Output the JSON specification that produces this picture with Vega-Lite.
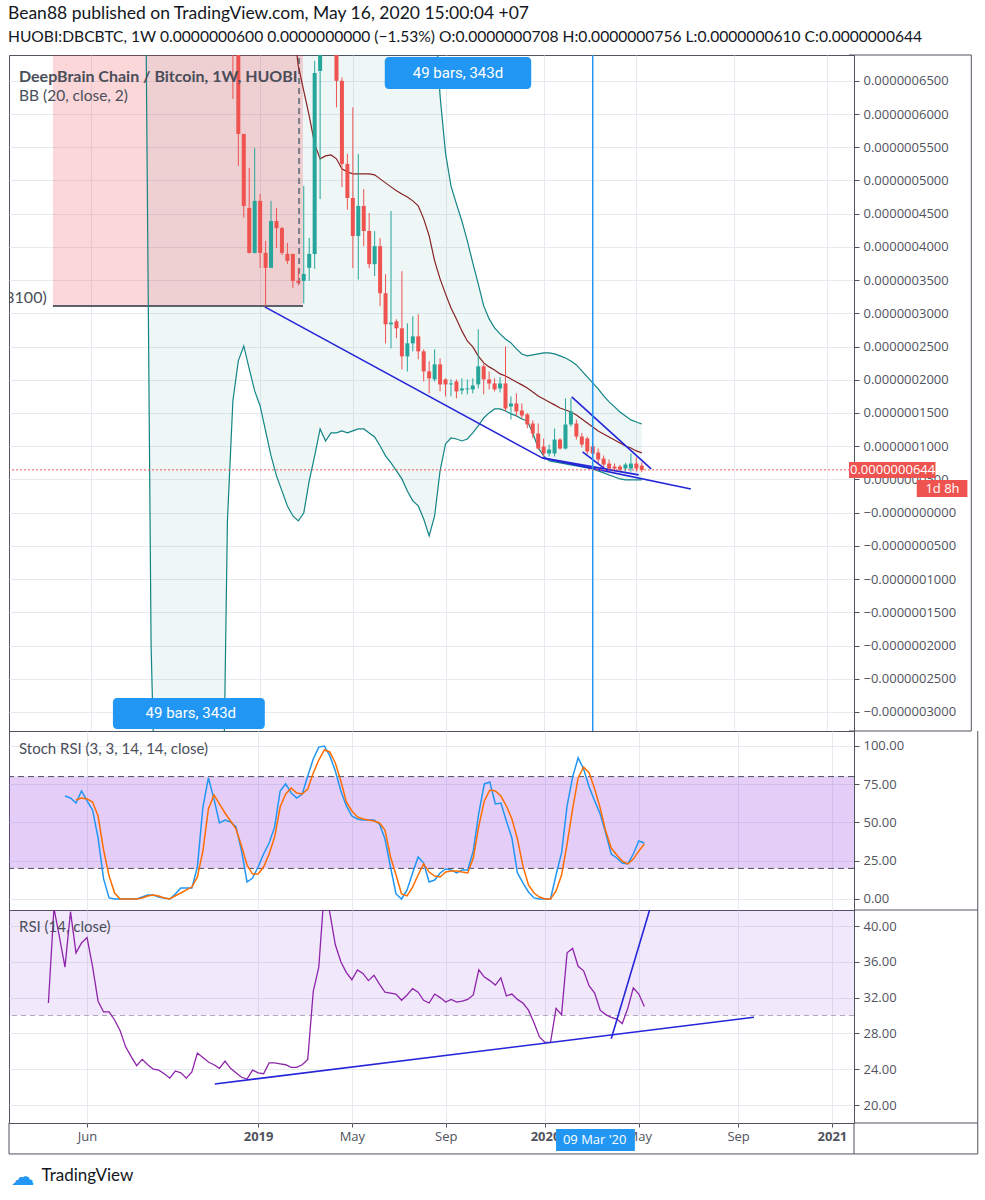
{
  "$schema": "https://vega.github.io/schema/vega-lite/v6.json",
  "background": "white",
  "padding": {"left": 8, "top": 4, "right": 0, "bottom": 0},
  "spacing": 0,
  "bounds": "flush",
  "title": {
    "text": "Bean88 published on TradingView.com, May 16, 2020 15:00:04 +07",
    "subtitle": "HUOBI:DBCBTC, 1W 0.0000000600 0.0000000000 (−1.53%) O:0.0000000708 H:0.0000000756 L:0.0000000610 C:0.0000000644",
    "anchor": "start", "font": "Lato", "fontSize": 17.5, "fontWeight": "normal", "color": "#131722",
    "subtitleFont": "Lato", "subtitleFontSize": 15.6, "subtitleColor": "#131722", "subtitlePadding": 8, "offset": 8
  },
  "datasets": {
    "weeks": [
      {"date":"2018-04-16","rsi":31.4},
      {"date":"2018-04-23","rsi":42.0},
      {"date":"2018-04-30","rsi":38.8},
      {"date":"2018-05-07","stochK":67.3,"rsi":35.4},
      {"date":"2018-05-14","stochK":66.0,"rsi":41.6},
      {"date":"2018-05-21","stochK":62.7,"stochD":64.7,"rsi":37.0},
      {"date":"2018-05-28","stochK":70.6,"stochD":66.0,"rsi":38.1},
      {"date":"2018-06-04","stochK":64.1,"stochD":65.4,"rsi":38.7},
      {"date":"2018-06-11","stochK":58.2,"stochD":63.4,"rsi":35.5},
      {"date":"2018-06-18","stochK":39.9,"stochD":54.2,"rsi":31.6},
      {"date":"2018-06-25","stochK":13.1,"stochD":32.0,"rsi":30.4},
      {"date":"2018-07-02","stochK":0.7,"stochD":15.0,"rsi":30.4},
      {"date":"2018-07-09","stochK":0,"stochD":3.9,"rsi":29.5},
      {"date":"2018-07-16","stochK":0,"stochD":0,"rsi":28.3},
      {"date":"2018-07-23","stochK":0,"stochD":0,"rsi":26.5},
      {"date":"2018-07-30","stochK":0,"stochD":0,"rsi":25.4},
      {"date":"2018-08-06","stochK":0,"stochD":0,"rsi":24.4},
      {"date":"2018-08-13","stochK":1.3,"stochD":0.7,"rsi":25.1,"bbUpper":40000,"bbBasis":30000,"bbLower":8000},
      {"date":"2018-08-20","stochK":2.6,"stochD":2.0,"rsi":24.5,"bbUpper":39000,"bbBasis":29200,"bbLower":-2000},
      {"date":"2018-08-27","stochK":2.6,"stochD":2.6,"rsi":24.0,"bbUpper":38000,"bbBasis":28400,"bbLower":-5319},
      {"date":"2018-09-03","stochK":1.3,"stochD":2.0,"rsi":23.9,"bbUpper":37000,"bbBasis":27600,"bbLower":-8000},
      {"date":"2018-09-10","stochK":0.7,"stochD":0.7,"rsi":23.5,"bbUpper":36000,"bbBasis":26800,"bbLower":-9500},
      {"date":"2018-09-17","stochK":0,"stochD":0,"rsi":23.0,"bbUpper":35000,"bbBasis":26000,"bbLower":-10500},
      {"date":"2018-09-24","stochK":3.3,"stochD":2.0,"rsi":23.8,"bbUpper":34000,"bbBasis":25100,"bbLower":-11000},
      {"date":"2018-10-01","stochK":7.2,"stochD":3.9,"rsi":23.6,"bbUpper":33000,"bbBasis":24200,"bbLower":-11200},
      {"date":"2018-10-08","stochK":7.2,"stochD":5.9,"rsi":23.0,"bbUpper":32000,"bbBasis":23300,"bbLower":-11000},
      {"date":"2018-10-15","stochK":7.2,"stochD":7.8,"rsi":23.7,"bbUpper":31000,"bbBasis":22400,"bbLower":-10500},
      {"date":"2018-10-22","stochK":20.9,"stochD":14.4,"rsi":25.8,"bbUpper":30000,"bbBasis":21500,"bbLower":-9800},
      {"date":"2018-10-29","stochK":60.1,"stochD":31.4,"rsi":25.3,"bbUpper":29000,"bbBasis":20600,"bbLower":-9000},
      {"date":"2018-11-05","stochK":79.1,"stochD":58.8,"rsi":24.8,"bbUpper":28000,"bbBasis":19700,"bbLower":-8200},
      {"date":"2018-11-12","stochK":65.4,"stochD":68.0,"rsi":24.5,"bbUpper":27000,"bbBasis":18800,"bbLower":-7300},
      {"date":"2018-11-19","stochK":49.7,"stochD":62.1,"rsi":24.1,"bbUpper":26000,"bbBasis":17900,"bbLower":-5800},
      {"date":"2018-11-26","stochK":51.6,"stochD":56.2,"rsi":24.9,"bbUpper":25000,"bbBasis":17000,"bbLower":-125},
      {"date":"2018-12-03","open":9000,"high":9500,"low":6228,"close":7200,"stochK":50.3,"stochD":51.0,"rsi":24.1,"bbUpper":24200,"bbBasis":16100,"bbLower":1681},
      {"date":"2018-12-10","open":7300,"high":7500,"low":5220,"close":5701,"stochK":47.1,"stochD":45.8,"rsi":23.6,"bbUpper":23400,"bbBasis":15200,"bbLower":2284},
      {"date":"2018-12-17","open":5701,"high":5701,"low":4440,"close":4617,"stochK":31.4,"stochD":34.6,"rsi":23.1,"bbUpper":22600,"bbBasis":14400,"bbLower":2509},
      {"date":"2018-12-24","open":4587,"high":5190,"low":3900,"close":3910,"stochK":11.1,"stochD":22.2,"rsi":22.9,"bbUpper":21800,"bbBasis":13700,"bbLower":2163},
      {"date":"2018-12-31","open":3910,"high":5490,"low":3900,"close":4693,"stochK":13.7,"stochD":16.3,"rsi":23.9,"bbUpper":21000,"bbBasis":13000,"bbLower":1832},
      {"date":"2019-01-07","open":4693,"high":4800,"low":3685,"close":3910,"stochK":20.9,"stochD":16.3,"rsi":23.6,"bbUpper":20300,"bbBasis":12400,"bbLower":1606},
      {"date":"2019-01-14","open":3910,"high":4090,"low":3097,"close":3685,"stochK":29.4,"stochD":20.9,"rsi":23.5,"bbUpper":19600,"bbBasis":11800,"bbLower":1230},
      {"date":"2019-01-21","open":3685,"high":4693,"low":3685,"close":4389,"stochK":36.6,"stochD":29.4,"rsi":24.7,"bbUpper":19000,"bbBasis":11300,"bbLower":854},
      {"date":"2019-01-28","open":4389,"high":4587,"low":3985,"close":4283,"stochK":47.1,"stochD":40.5,"rsi":24.7,"bbUpper":18400,"bbBasis":10800,"bbLower":553},
      {"date":"2019-02-04","open":4283,"high":4300,"low":3880,"close":3910,"stochK":70.6,"stochD":60.1,"rsi":24.6,"bbUpper":17800,"bbBasis":10300,"bbLower":327},
      {"date":"2019-02-11","open":3895,"high":4060,"low":3745,"close":3790,"stochK":75.2,"stochD":68.6,"rsi":24.5,"bbUpper":17300,"bbBasis":9300,"bbLower":101},
      {"date":"2019-02-18","open":3895,"high":3895,"low":3383,"close":3488,"stochK":69.3,"stochD":72.5,"rsi":24.2,"bbUpper":16800,"bbBasis":7402,"bbLower":-50},
      {"date":"2019-02-25","open":3490,"high":3685,"low":3420,"close":3460,"stochK":66.0,"stochD":69.3,"rsi":24.2,"bbUpper":16300,"bbBasis":6725,"bbLower":-125},
      {"date":"2019-03-04","open":3488,"high":4920,"low":3150,"close":3593,"stochK":68.6,"stochD":68.6,"rsi":24.5,"bbUpper":15900,"bbBasis":6348,"bbLower":-5},
      {"date":"2019-03-11","open":3685,"high":4135,"low":3488,"close":3895,"stochK":80.4,"stochD":71.9,"rsi":25.1,"bbUpper":15500,"bbBasis":5972,"bbLower":477},
      {"date":"2019-03-18","open":3895,"high":6800,"low":3670,"close":6619,"stochK":91.5,"stochD":82.4,"rsi":32.7,"bbUpper":15100,"bbBasis":5551,"bbLower":854},
      {"date":"2019-03-25","open":6650,"high":7400,"low":4720,"close":7100,"stochK":99.3,"stochD":90.8,"rsi":35.4,"bbUpper":14700,"bbBasis":5326,"bbLower":1260},
      {"date":"2019-04-01","open":7100,"high":8200,"low":6950,"close":7800,"stochK":100,"stochD":97.4,"rsi":44.0,"bbUpper":14300,"bbBasis":5370,"bbLower":1079},
      {"date":"2019-04-08","open":7800,"high":8100,"low":6900,"close":7300,"stochK":93.5,"stochD":96.1,"rsi":41.5,"bbUpper":14000,"bbBasis":5385,"bbLower":1200},
      {"date":"2019-04-15","open":7300,"high":7400,"low":6100,"close":6500,"stochK":83.7,"stochD":88.9,"rsi":37.9,"bbUpper":13700,"bbBasis":5326,"bbLower":1200},
      {"date":"2019-04-22","open":6500,"high":6550,"low":4900,"close":5250,"stochK":70.6,"stochD":77.1,"rsi":36.0,"bbUpper":13400,"bbBasis":5175,"bbLower":1230},
      {"date":"2019-04-29","open":5250,"high":5400,"low":4560,"close":4737,"stochK":60.8,"stochD":63.4,"rsi":34.8,"bbUpper":13100,"bbBasis":5130,"bbLower":1200},
      {"date":"2019-05-06","open":4737,"high":6100,"low":3680,"close":4164,"stochK":54.2,"stochD":57.5,"rsi":34.0,"bbUpper":12800,"bbBasis":5100,"bbLower":1230},
      {"date":"2019-05-13","open":4164,"high":5400,"low":3510,"close":4617,"stochK":52.3,"stochD":53.6,"rsi":35.1,"bbUpper":12500,"bbBasis":5100,"bbLower":1260},
      {"date":"2019-05-20","open":4617,"high":4870,"low":4010,"close":4240,"stochK":51.6,"stochD":52.3,"rsi":34.7,"bbUpper":12200,"bbBasis":5100,"bbLower":1260},
      {"date":"2019-05-27","open":4240,"high":4510,"low":3680,"close":3740,"stochK":51.6,"stochD":51.6,"rsi":33.9,"bbUpper":11900,"bbBasis":5100,"bbLower":1200},
      {"date":"2019-06-03","open":3740,"high":4237,"low":3560,"close":4011,"stochK":51.6,"stochD":51.0,"rsi":34.5,"bbUpper":11600,"bbBasis":5085,"bbLower":1140},
      {"date":"2019-06-10","open":4011,"high":4132,"low":3106,"close":3303,"stochK":49.0,"stochD":49.7,"rsi":33.5,"bbUpper":11300,"bbBasis":5024,"bbLower":1004},
      {"date":"2019-06-17","open":3303,"high":3589,"low":2549,"close":2835,"stochK":39.2,"stochD":45.1,"rsi":32.6,"bbUpper":11000,"bbBasis":4964,"bbLower":854},
      {"date":"2019-06-24","open":2835,"high":4540,"low":2473,"close":2860,"stochK":20.9,"stochD":27.5,"rsi":32.5,"bbUpper":10700,"bbBasis":4904,"bbLower":749},
      {"date":"2019-07-01","open":2880,"high":2910,"low":2624,"close":2775,"stochK":3.3,"stochD":15.7,"rsi":32.4,"bbUpper":10400,"bbBasis":4844,"bbLower":628},
      {"date":"2019-07-08","open":2775,"high":3634,"low":2156,"close":2352,"stochK":0,"stochD":3.3,"rsi":31.7,"bbUpper":10100,"bbBasis":4798,"bbLower":508},
      {"date":"2019-07-15","open":2352,"high":2850,"low":2126,"close":2549,"stochK":5.9,"stochD":2.0,"rsi":32.3,"bbUpper":9800,"bbBasis":4753,"bbLower":327},
      {"date":"2019-07-22","open":2549,"high":2956,"low":2428,"close":2654,"stochK":17.0,"stochD":7.8,"rsi":33.0,"bbUpper":9500,"bbBasis":4693,"bbLower":177},
      {"date":"2019-07-29","open":2654,"high":2986,"low":2307,"close":2428,"stochK":27.5,"stochD":15.7,"rsi":32.6,"bbUpper":9200,"bbBasis":4618,"bbLower":101},
      {"date":"2019-08-05","open":2428,"high":2458,"low":1975,"close":2126,"stochK":23.5,"stochD":22.9,"rsi":31.7,"bbUpper":8900,"bbBasis":4422,"bbLower":-95},
      {"date":"2019-08-12","open":2126,"high":2277,"low":1795,"close":2021,"stochK":11.1,"stochD":17.6,"rsi":31.4,"bbUpper":8500,"bbBasis":4166,"bbLower":-351},
      {"date":"2019-08-19","open":2006,"high":2458,"low":1975,"close":2232,"stochK":12.4,"stochD":15.0,"rsi":32.4,"bbUpper":7703,"bbBasis":3790,"bbLower":-50},
      {"date":"2019-08-26","open":2232,"high":2322,"low":1825,"close":1930,"stochK":17.0,"stochD":14.4,"rsi":32.0,"bbUpper":6273,"bbBasis":3519,"bbLower":628},
      {"date":"2019-09-02","open":2006,"high":2021,"low":1750,"close":1930,"stochK":19.6,"stochD":17.6,"rsi":31.5,"bbUpper":5414,"bbBasis":3293,"bbLower":1034},
      {"date":"2019-09-09","open":1930,"high":2006,"low":1750,"close":1945,"stochK":19.0,"stochD":18.3,"rsi":31.8,"bbUpper":4918,"bbBasis":3082,"bbLower":1124},
      {"date":"2019-09-16","open":1975,"high":2006,"low":1720,"close":1825,"stochK":17.0,"stochD":18.3,"rsi":31.5,"bbUpper":4647,"bbBasis":2916,"bbLower":1109},
      {"date":"2019-09-23","open":1840,"high":2021,"low":1780,"close":1870,"stochK":19.0,"stochD":17.6,"rsi":31.6,"bbUpper":4391,"bbBasis":2736,"bbLower":1079},
      {"date":"2019-09-30","open":1855,"high":2006,"low":1780,"close":1870,"stochK":19.0,"stochD":17.0,"rsi":31.8,"bbUpper":4090,"bbBasis":2585,"bbLower":1109},
      {"date":"2019-10-07","open":1855,"high":2021,"low":1795,"close":1915,"stochK":31.4,"stochD":26.8,"rsi":32.3,"bbUpper":3759,"bbBasis":2495,"bbLower":1200},
      {"date":"2019-10-14","open":1930,"high":2760,"low":1870,"close":2202,"stochK":56.2,"stochD":47.7,"rsi":35.1,"bbUpper":3443,"bbBasis":2359,"bbLower":1305},
      {"date":"2019-10-21","open":2202,"high":2232,"low":1780,"close":2006,"stochK":75.2,"stochD":64.1,"rsi":34.3,"bbUpper":3112,"bbBasis":2254,"bbLower":1425},
      {"date":"2019-10-28","open":2006,"high":2126,"low":1855,"close":1945,"stochK":76.5,"stochD":71.2,"rsi":33.9,"bbUpper":2916,"bbBasis":2194,"bbLower":1501},
      {"date":"2019-11-04","open":1945,"high":2021,"low":1825,"close":1855,"stochK":62.1,"stochD":70.6,"rsi":33.4,"bbUpper":2781,"bbBasis":2148,"bbLower":1561},
      {"date":"2019-11-11","open":1870,"high":2040,"low":1810,"close":1945,"stochK":62.7,"stochD":67.3,"rsi":34.2,"bbUpper":2690,"bbBasis":2088,"bbLower":1561},
      {"date":"2019-11-18","open":1945,"high":2503,"low":1523,"close":1568,"stochK":51.0,"stochD":60.8,"rsi":32.2,"bbUpper":2615,"bbBasis":2058,"bbLower":1531},
      {"date":"2019-11-25","open":1598,"high":1750,"low":1402,"close":1643,"stochK":39.9,"stochD":52.3,"rsi":32.4,"bbUpper":2555,"bbBasis":2013,"bbLower":1486},
      {"date":"2019-12-02","open":1643,"high":1795,"low":1448,"close":1523,"stochK":17.0,"stochD":39.2,"rsi":31.8,"bbUpper":2465,"bbBasis":1968,"bbLower":1456},
      {"date":"2019-12-09","open":1538,"high":1643,"low":1417,"close":1463,"stochK":10.5,"stochD":21.6,"rsi":31.4,"bbUpper":2389,"bbBasis":1923,"bbLower":1410},
      {"date":"2019-12-16","open":1478,"high":1500,"low":1270,"close":1327,"stochK":4.6,"stochD":9.2,"rsi":30.6,"bbUpper":2359,"bbBasis":1877,"bbLower":1380},
      {"date":"2019-12-23","open":1342,"high":1390,"low":1120,"close":1191,"stochK":0.7,"stochD":3.9,"rsi":29.2,"bbUpper":2374,"bbBasis":1817,"bbLower":1200},
      {"date":"2019-12-30","open":1191,"high":1342,"low":950,"close":965,"stochK":0,"stochD":1.3,"rsi":27.6,"bbUpper":2389,"bbBasis":1757,"bbLower":975},
      {"date":"2020-01-06","open":995,"high":1116,"low":845,"close":890,"stochK":0,"stochD":0,"rsi":27.0,"bbUpper":2404,"bbBasis":1712,"bbLower":855},
      {"date":"2020-01-13","open":890,"high":1025,"low":845,"close":950,"stochK":0,"stochD":0,"rsi":27.0,"bbUpper":2404,"bbBasis":1667,"bbLower":778},
      {"date":"2020-01-20","open":890,"high":1267,"low":845,"close":1100,"stochK":15.7,"stochD":5.2,"rsi":30.8,"bbUpper":2389,"bbBasis":1622,"bbLower":763},
      {"date":"2020-01-27","open":1100,"high":1120,"low":950,"close":965,"stochK":30.1,"stochD":15.7,"rsi":30.1,"bbUpper":2359,"bbBasis":1576,"bbLower":748},
      {"date":"2020-02-03","open":965,"high":1719,"low":950,"close":1327,"stochK":60.8,"stochD":35.9,"rsi":37.0,"bbUpper":2329,"bbBasis":1546,"bbLower":733},
      {"date":"2020-02-10","open":1327,"high":1719,"low":1297,"close":1523,"stochK":79.7,"stochD":58.8,"rsi":37.5,"bbUpper":2284,"bbBasis":1516,"bbLower":718},
      {"date":"2020-02-17","open":1342,"high":1400,"low":1100,"close":1146,"stochK":92.2,"stochD":79.1,"rsi":35.5,"bbUpper":2224,"bbBasis":1471,"bbLower":703},
      {"date":"2020-02-24","open":1146,"high":1200,"low":980,"close":1025,"stochK":85.0,"stochD":86.3,"rsi":35.0,"bbUpper":2133,"bbBasis":1411,"bbLower":688},
      {"date":"2020-03-02","open":1116,"high":1140,"low":880,"close":920,"stochK":73.2,"stochD":82.4,"rsi":33.3,"bbUpper":2043,"bbBasis":1350,"bbLower":673},
      {"date":"2020-03-09","open":995,"high":1040,"low":860,"close":890,"stochK":64.1,"stochD":71.9,"rsi":32.5,"bbUpper":1953,"bbBasis":1290,"bbLower":658},
      {"date":"2020-03-16","open":905,"high":965,"low":739,"close":800,"stochK":55.6,"stochD":59.5,"rsi":30.6,"bbUpper":1863,"bbBasis":1230,"bbLower":628},
      {"date":"2020-03-23","open":814,"high":860,"low":680,"close":724,"stochK":43.1,"stochD":44.4,"rsi":30.1,"bbUpper":1757,"bbBasis":1185,"bbLower":598},
      {"date":"2020-03-30","open":739,"high":800,"low":620,"close":664,"stochK":29.4,"stochD":33.3,"rsi":29.8,"bbUpper":1667,"bbBasis":1140,"bbLower":567},
      {"date":"2020-04-06","open":694,"high":740,"low":630,"close":664,"stochK":26.8,"stochD":28.8,"rsi":29.6,"bbUpper":1592,"bbBasis":1094,"bbLower":537},
      {"date":"2020-04-13","open":694,"high":720,"low":620,"close":648,"stochK":23.5,"stochD":24.8,"rsi":29.1,"bbUpper":1516,"bbBasis":1049,"bbLower":507},
      {"date":"2020-04-20","open":664,"high":750,"low":620,"close":724,"stochK":22.9,"stochD":22.9,"rsi":30.8,"bbUpper":1456,"bbBasis":1004,"bbLower":492},
      {"date":"2020-04-27","open":664,"high":890,"low":618,"close":739,"stochK":29.4,"stochD":26.1,"rsi":33.1,"bbUpper":1396,"bbBasis":974,"bbLower":492},
      {"date":"2020-05-04","open":739,"high":830,"low":620,"close":664,"stochK":37.9,"stochD":31.4,"rsi":32.4,"bbUpper":1365,"bbBasis":929,"bbLower":492},
      {"date":"2020-05-11","open":708,"high":756,"low":610,"close":644,"stochK":36.6,"stochD":35.9,"rsi":31.0,"bbUpper":1335,"bbBasis":899,"bbLower":492}
    ],
    "trendLines": [
      {"id":"A","date":"2019-01-13","value":3097},{"id":"A","date":"2020-01-04","value":824},
      {"id":"B","date":"2020-01-04","value":824},{"id":"B","date":"2020-07-13","value":357},
      {"id":"C","date":"2020-01-04","value":824},{"id":"C","date":"2020-05-07","value":568},
      {"id":"W1","date":"2020-02-11","value":1742},{"id":"W1","date":"2020-05-23","value":658},
      {"id":"W2","date":"2020-02-25","value":914},{"id":"W2","date":"2020-03-28","value":628}
    ],
    "rsiLines": [
      {"id":"R1","date":"2018-11-13","value":22.35},{"id":"R1","date":"2020-09-27","value":29.8},
      {"id":"R2","date":"2020-03-30","value":27.4},{"id":"R2","date":"2020-05-23","value":43.35}
    ],
    "priceRange": [{"date":"2018-04-16","date2":"2019-03-03","low":3110,"high":12000,"arrowDate":"2019-02-26","arrowLow":3440,"labelDate":"2018-04-08","labelValue":3232,"label":"3100)"}],
    "rangeLabels": [
      {"date":"2019-06-16","date2":"2019-12-21","v1":6378,"v2":6860,"tdate":"2019-09-18","tv":6620,"text":"49 bars, 343d"},
      {"date":"2018-07-02","date2":"2019-01-13","v1":-3256,"v2":-2790,"tdate":"2018-10-10","tv":-3023,"text":"49 bars, 343d"}
    ],
    "priceTags": [
      {"date":"2021-02-01","date2":"2021-05-23","v1":522,"v2":763,"tdate":"2021-03-29","tv":644,"text":"0.0000000644"},
      {"date":"2021-04-29","date2":"2021-07-03","v1":236,"v2":492,"tdate":"2021-06-01","tv":362,"text":"1d 8h"}
    ],
    "cursor": [{"date":"2020-03-09","date1":"2020-01-20","date2":"2020-04-29","v1":14.86,"v2":17.32,"tv":16.1,"text":"09 Mar '20"}],
    "lastPrice": [{"value":644}],
    "stochLevels": [{"level":80,"low":20}, {"level":20,"low":20}],
    "rsiLevels": [{"level":30,"high":70}],
    "frameMainH": [{"x1":"2021-02-01","x2":"2021-07-08","y":6889},{"x1":"2021-02-01","x2":"2021-07-08","y":-3287}],
    "frameStochH": [{"x1":"2021-02-01","x2":"2021-07-08","y":-7.2}],
    "frameRsiH": [{"x1":"2021-02-01","x2":"2021-07-08","y":17.99},{"x1":"2018-02-25","x2":"2021-07-08","y":14.53}],
    "frameRsiV": [{"x":"2021-07-08","y1":14.53,"y2":41.79},{"x":"2018-02-25","y1":14.53,"y2":17.99},{"x":"2021-02-01","y1":14.53,"y2":17.99}],
    "frameRight": [{"x":"2021-07-08"}],
    "logo": [{"date":"2018-03-14","value":11.9,"glyph":"☁"}]
  },
  "vconcat": [
    {
      "width": 845, "height": 676,
      "title": {"text": "DeepBrain Chain / Bitcoin, 1W, HUOBI", "subtitle": "BB (20, close, 2)", "anchor": "start", "frame": "group", "offset": -50, "dx": 10,
        "font": "Lato", "fontSize": 16, "fontWeight": "bold", "color": "#4a4e59", "subtitleFont": "Lato", "subtitleFontSize": 15.5, "subtitleColor": "#4a4e59", "subtitlePadding": 4},
      "layer": [
        {
          "data": {"name": "weeks"}, "transform": [{"filter": "isValid(datum.bbUpper)"}],
          "mark": {"type": "area", "clip": true, "color": "#138484", "opacity": 0.07},
          "encoding": {
            "x": {"field": "date", "type": "temporal", "scale": {"type": "utc", "domain": [1519516800000, 1612137600000], "nice": false},
              "axis": {"values": [1528070400000, 1546819200000, 1557100800000, 1567382400000, 1578268800000, 1588550400000, 1599436800000, 1609718400000], "labels": false, "ticks": false, "domain": false, "title": null, "grid": true}},
            "y": {"field": "bbUpper", "type": "quantitative", "scale": {"domain": [-3287, 6889], "nice": false, "zero": false},
              "axis": {"orient": "right", "title": null, "grid": true, "tickSize": 5, "labelPadding": 4, "domain": true, "labelOverlap": false, "tickCount": 20,
                "values": [-3000,-2500,-2000,-1500,-1000,-500,0,500,1000,1500,2000,2500,3000,3500,4000,4500,5000,5500,6000,6500],
                "labelExpr": "(datum.value <= 0 ? '−' : '') + format(abs(datum.value) / 10000000000, '.10f')"}},
            "y2": {"field": "bbLower"}
          }
        },
        {
          "data": {"name": "priceRange"},
          "mark": {"type": "rect", "clip": true, "color": "#f23645", "opacity": 0.2},
          "encoding": {
            "x": {"field": "date", "type": "temporal", "scale": {"type": "utc", "domain": [1519516800000, 1612137600000], "nice": false}},
            "x2": {"field": "date2"},
            "y": {"field": "low", "type": "quantitative", "scale": {"domain": [-3287, 6889], "nice": false, "zero": false}},
            "y2": {"field": "high"}
          }
        },
        {
          "data": {"name": "priceRange"},
          "mark": {"type": "rule", "clip": true, "color": "#5d606b", "strokeWidth": 2},
          "encoding": {
            "x": {"field": "date", "type": "temporal", "scale": {"type": "utc", "domain": [1519516800000, 1612137600000], "nice": false}},
            "x2": {"field": "date2"},
            "y": {"field": "low", "type": "quantitative", "scale": {"domain": [-3287, 6889], "nice": false, "zero": false}}
          }
        },
        {
          "data": {"name": "priceRange"},
          "mark": {"type": "rule", "clip": true, "color": "#7a7d87", "strokeWidth": 2, "strokeDash": [6, 4]},
          "encoding": {
            "x": {"field": "arrowDate", "type": "temporal", "scale": {"type": "utc", "domain": [1519516800000, 1612137600000], "nice": false}},
            "y": {"field": "arrowLow", "type": "quantitative", "scale": {"domain": [-3287, 6889], "nice": false, "zero": false}},
            "y2": {"field": "high"}
          }
        },
        {
          "data": {"name": "priceRange"},
          "mark": {"type": "text", "clip": true, "align": "right", "baseline": "middle", "font": "Lato", "fontSize": 16, "color": "#4a4e59"},
          "encoding": {
            "x": {"field": "labelDate", "type": "temporal", "scale": {"type": "utc", "domain": [1519516800000, 1612137600000], "nice": false}},
            "y": {"field": "labelValue", "type": "quantitative", "scale": {"domain": [-3287, 6889], "nice": false, "zero": false}},
            "text": {"field": "label"}
          }
        },
        {
          "data": {"name": "weeks"}, "transform": [{"filter": "isValid(datum.bbUpper)"}],
          "mark": {"type": "line", "clip": true, "color": "#138484", "strokeWidth": 1.2},
          "encoding": {
            "x": {"field": "date", "type": "temporal", "scale": {"type": "utc", "domain": [1519516800000, 1612137600000], "nice": false}},
            "y": {"field": "bbUpper", "type": "quantitative", "scale": {"domain": [-3287, 6889], "nice": false, "zero": false}}
          }
        },
        {
          "data": {"name": "weeks"}, "transform": [{"filter": "isValid(datum.bbLower)"}],
          "mark": {"type": "line", "clip": true, "color": "#138484", "strokeWidth": 1.2},
          "encoding": {
            "x": {"field": "date", "type": "temporal", "scale": {"type": "utc", "domain": [1519516800000, 1612137600000], "nice": false}},
            "y": {"field": "bbLower", "type": "quantitative", "scale": {"domain": [-3287, 6889], "nice": false, "zero": false}}
          }
        },
        {
          "data": {"name": "weeks"}, "transform": [{"filter": "isValid(datum.bbBasis)"}],
          "mark": {"type": "line", "clip": true, "color": "#872323", "strokeWidth": 1.2},
          "encoding": {
            "x": {"field": "date", "type": "temporal", "scale": {"type": "utc", "domain": [1519516800000, 1612137600000], "nice": false}},
            "y": {"field": "bbBasis", "type": "quantitative", "scale": {"domain": [-3287, 6889], "nice": false, "zero": false}}
          }
        },
        {
          "data": {"name": "weeks"}, "transform": [{"filter": "isValid(datum.open)"}],
          "mark": {"type": "rule", "clip": true, "strokeWidth": 1},
          "encoding": {
            "x": {"field": "date", "type": "temporal", "scale": {"type": "utc", "domain": [1519516800000, 1612137600000], "nice": false}},
            "y": {"field": "low", "type": "quantitative", "scale": {"domain": [-3287, 6889], "nice": false, "zero": false}},
            "y2": {"field": "high"},
            "color": {"condition": {"test": "datum.close >= datum.open", "value": "#26a69a"}, "value": "#ef5350"}
          }
        },
        {
          "data": {"name": "weeks"}, "transform": [{"filter": "isValid(datum.open)"}],
          "mark": {"type": "bar", "clip": true, "size": 4},
          "encoding": {
            "x": {"field": "date", "type": "temporal", "scale": {"type": "utc", "domain": [1519516800000, 1612137600000], "nice": false}},
            "y": {"field": "open", "type": "quantitative", "scale": {"domain": [-3287, 6889], "nice": false, "zero": false}},
            "y2": {"field": "close"},
            "color": {"condition": {"test": "datum.close >= datum.open", "value": "#26a69a"}, "value": "#ef5350"}
          }
        },
        {
          "data": {"name": "trendLines"},
          "mark": {"type": "line", "clip": true, "color": "#2525d9", "strokeWidth": 1.6},
          "encoding": {
            "x": {"field": "date", "type": "temporal", "scale": {"type": "utc", "domain": [1519516800000, 1612137600000], "nice": false}},
            "y": {"field": "value", "type": "quantitative", "scale": {"domain": [-3287, 6889], "nice": false, "zero": false}},
            "detail": {"field": "id"}
          }
        },
        {
          "data": {"name": "cursor"},
          "mark": {"type": "rule", "color": "#2196f3", "strokeWidth": 1.5},
          "encoding": {
            "x": {"field": "date", "type": "temporal", "scale": {"type": "utc", "domain": [1519516800000, 1612137600000], "nice": false}}
          }
        },
        {
          "data": {"name": "lastPrice"},
          "mark": {"type": "rule", "color": "#ef5350", "strokeWidth": 1, "strokeDash": [2, 2]},
          "encoding": {
            "y": {"field": "value", "type": "quantitative", "scale": {"domain": [-3287, 6889], "nice": false, "zero": false}}
          }
        },
        {
          "data": {"name": "rangeLabels"},
          "mark": {"type": "rect", "color": "#2196f3", "cornerRadius": 4},
          "encoding": {
            "x": {"field": "date", "type": "temporal", "scale": {"type": "utc", "domain": [1519516800000, 1612137600000], "nice": false}},
            "x2": {"field": "date2"},
            "y": {"field": "v1", "type": "quantitative", "scale": {"domain": [-3287, 6889], "nice": false, "zero": false}},
            "y2": {"field": "v2"}
          }
        },
        {
          "data": {"name": "rangeLabels"},
          "mark": {"type": "text", "color": "white", "font": "Roboto", "fontSize": 15, "align": "center", "baseline": "middle"},
          "encoding": {
            "x": {"field": "tdate", "type": "temporal", "scale": {"type": "utc", "domain": [1519516800000, 1612137600000], "nice": false}},
            "y": {"field": "tv", "type": "quantitative", "scale": {"domain": [-3287, 6889], "nice": false, "zero": false}},
            "text": {"field": "text"}
          }
        },
        {
          "data": {"name": "priceTags"},
          "mark": {"type": "rect", "color": "#ef5350"},
          "encoding": {
            "x": {"field": "date", "type": "temporal", "scale": {"type": "utc", "domain": [1519516800000, 1612137600000], "nice": false}},
            "x2": {"field": "date2"},
            "y": {"field": "v1", "type": "quantitative", "scale": {"domain": [-3287, 6889], "nice": false, "zero": false}},
            "y2": {"field": "v2"}
          }
        },
        {
          "data": {"name": "priceTags"},
          "mark": {"type": "text", "color": "white", "font": "Open Sans", "fontSize": 13, "align": "center", "baseline": "middle"},
          "encoding": {
            "x": {"field": "tdate", "type": "temporal", "scale": {"type": "utc", "domain": [1519516800000, 1612137600000], "nice": false}},
            "y": {"field": "tv", "type": "quantitative", "scale": {"domain": [-3287, 6889], "nice": false, "zero": false}},
            "text": {"field": "text"}
          }
        },
        {
          "data": {"name": "frameMainH"},
          "mark": {"type": "rule", "color": "#50535e", "strokeWidth": 1},
          "encoding": {
            "x": {"field": "x1", "type": "temporal", "scale": {"type": "utc", "domain": [1519516800000, 1612137600000], "nice": false}},
            "x2": {"field": "x2"},
            "y": {"field": "y", "type": "quantitative", "scale": {"domain": [-3287, 6889], "nice": false, "zero": false}}
          }
        },
        {
          "data": {"name": "frameRight"},
          "mark": {"type": "rule", "color": "#50535e", "strokeWidth": 1},
          "encoding": {
            "x": {"field": "x", "type": "temporal", "scale": {"type": "utc", "domain": [1519516800000, 1612137600000], "nice": false}}
          }
        }
      ]
    },
    {
      "width": 845, "height": 179,
      "title": {"text": "Stoch RSI (3, 3, 14, 14, close)", "anchor": "start", "frame": "group", "offset": -26, "dx": 10,
        "font": "Lato", "fontSize": 15, "fontWeight": "normal", "color": "#4a4e59"},
      "layer": [
        {
          "data": {"name": "weeks"}, "transform": [{"filter": "isValid(datum.stochK)"}],
          "mark": {"type": "line", "clip": true, "color": "#2196f3", "strokeWidth": 1.5, "opacity": 0},
          "encoding": {
            "x": {"field": "date", "type": "temporal", "scale": {"type": "utc", "domain": [1519516800000, 1612137600000], "nice": false},
              "axis": {"values": [1528070400000, 1546819200000, 1557100800000, 1567382400000, 1578268800000, 1588550400000, 1599436800000, 1609718400000], "labels": false, "ticks": false, "domain": false, "title": null, "grid": true}},
            "y": {"field": "stochK", "type": "quantitative", "scale": {"domain": [-7.2, 109.8], "nice": false, "zero": false},
              "axis": {"orient": "right", "title": null, "grid": true, "tickSize": 5, "labelPadding": 4, "labelOverlap": false, "values": [0, 25, 50, 75, 100], "format": ".2f"}}
          }
        },
        {
          "data": {"name": "stochLevels"}, "transform": [{"filter": "datum.level == 80"}],
          "mark": {"type": "rect", "color": "#8a2be2", "opacity": 0.23},
          "encoding": {
            "y": {"field": "level", "type": "quantitative", "scale": {"domain": [-7.2, 109.8], "nice": false, "zero": false}},
            "y2": {"field": "low"}
          }
        },
        {
          "data": {"name": "stochLevels"},
          "mark": {"type": "rule", "color": "#50535e", "strokeWidth": 1, "strokeDash": [6, 4]},
          "encoding": {
            "y": {"field": "level", "type": "quantitative", "scale": {"domain": [-7.2, 109.8], "nice": false, "zero": false}}
          }
        },
        {
          "data": {"name": "weeks"}, "transform": [{"filter": "isValid(datum.stochK)"}],
          "mark": {"type": "line", "clip": true, "color": "#2196f3", "strokeWidth": 1.5},
          "encoding": {
            "x": {"field": "date", "type": "temporal", "scale": {"type": "utc", "domain": [1519516800000, 1612137600000], "nice": false}},
            "y": {"field": "stochK", "type": "quantitative", "scale": {"domain": [-7.2, 109.8], "nice": false, "zero": false}}
          }
        },
        {
          "data": {"name": "weeks"}, "transform": [{"filter": "isValid(datum.stochD)"}],
          "mark": {"type": "line", "clip": true, "color": "#ff6d00", "strokeWidth": 1.5},
          "encoding": {
            "x": {"field": "date", "type": "temporal", "scale": {"type": "utc", "domain": [1519516800000, 1612137600000], "nice": false}},
            "y": {"field": "stochD", "type": "quantitative", "scale": {"domain": [-7.2, 109.8], "nice": false, "zero": false}}
          }
        },
        {
          "data": {"name": "frameStochH"},
          "mark": {"type": "rule", "color": "#50535e", "strokeWidth": 1},
          "encoding": {
            "x": {"field": "x1", "type": "temporal", "scale": {"type": "utc", "domain": [1519516800000, 1612137600000], "nice": false}},
            "x2": {"field": "x2"},
            "y": {"field": "y", "type": "quantitative", "scale": {"domain": [-7.2, 109.8], "nice": false, "zero": false}}
          }
        },
        {
          "data": {"name": "frameRight"},
          "mark": {"type": "rule", "color": "#50535e", "strokeWidth": 1},
          "encoding": {
            "x": {"field": "x", "type": "temporal", "scale": {"type": "utc", "domain": [1519516800000, 1612137600000], "nice": false}}
          }
        }
      ]
    },
    {
      "width": 845, "height": 213,
      "title": {"text": "RSI (14, close)", "anchor": "start", "frame": "group", "offset": -25, "dx": 10,
        "font": "Lato", "fontSize": 15, "fontWeight": "normal", "color": "#4a4e59"},
      "layer": [
        {
          "data": {"name": "weeks"}, "transform": [{"filter": "isValid(datum.rsi)"}],
          "mark": {"type": "line", "clip": true, "color": "#8e24aa", "strokeWidth": 1.3, "opacity": 0},
          "encoding": {
            "x": {"field": "date", "type": "temporal", "scale": {"type": "utc", "domain": [1519516800000, 1612137600000], "nice": false},
              "axis": {"values": [1528070400000, 1546819200000, 1557100800000, 1567382400000, 1578268800000, 1588550400000, 1599436800000, 1609718400000],
                "labelExpr": "utcmonth(datum.value) == 0 ? utcFormat(datum.value, '%Y') : utcFormat(datum.value, '%b')",
                "labelFontWeight": {"condition": {"test": "utcmonth(datum.value) == 0", "value": "bold"}, "value": "normal"},
                "tickSize": 4, "labelPadding": 3, "grid": true, "domain": false, "labelOverlap": false,
                "title": "TradingView", "titleAnchor": "start", "titleAlign": "left", "titleX": 32, "titleY": 52, "titleBaseline": "middle",
                "titleFont": "Lato", "titleFontSize": 17, "titleFontWeight": "normal", "titleColor": "#131722"}},
            "y": {"field": "rsi", "type": "quantitative", "scale": {"domain": [17.99, 41.79], "nice": false, "zero": false},
              "axis": {"orient": "right", "title": null, "grid": true, "tickSize": 5, "labelPadding": 4, "labelOverlap": false, "values": [20, 24, 28, 32, 36, 40], "format": ".2f"}}
          }
        },
        {
          "data": {"name": "rsiLevels"},
          "mark": {"type": "rect", "clip": true, "color": "#8a2be2", "opacity": 0.11},
          "encoding": {
            "y": {"field": "level", "type": "quantitative", "scale": {"domain": [17.99, 41.79], "nice": false, "zero": false}},
            "y2": {"field": "high"}
          }
        },
        {
          "data": {"name": "rsiLevels"},
          "mark": {"type": "rule", "color": "#a9acb5", "strokeWidth": 1, "strokeDash": [5, 4]},
          "encoding": {
            "y": {"field": "level", "type": "quantitative", "scale": {"domain": [17.99, 41.79], "nice": false, "zero": false}}
          }
        },
        {
          "data": {"name": "weeks"}, "transform": [{"filter": "isValid(datum.rsi)"}],
          "mark": {"type": "line", "clip": true, "color": "#8e24aa", "strokeWidth": 1.3},
          "encoding": {
            "x": {"field": "date", "type": "temporal", "scale": {"type": "utc", "domain": [1519516800000, 1612137600000], "nice": false}},
            "y": {"field": "rsi", "type": "quantitative", "scale": {"domain": [17.99, 41.79], "nice": false, "zero": false}}
          }
        },
        {
          "data": {"name": "rsiLines"},
          "mark": {"type": "line", "clip": true, "color": "#2525d9", "strokeWidth": 1.6},
          "encoding": {
            "x": {"field": "date", "type": "temporal", "scale": {"type": "utc", "domain": [1519516800000, 1612137600000], "nice": false}},
            "y": {"field": "value", "type": "quantitative", "scale": {"domain": [17.99, 41.79], "nice": false, "zero": false}},
            "detail": {"field": "id"}
          }
        },
        {
          "data": {"name": "frameRsiH"},
          "mark": {"type": "rule", "color": "#50535e", "strokeWidth": 1},
          "encoding": {
            "x": {"field": "x1", "type": "temporal", "scale": {"type": "utc", "domain": [1519516800000, 1612137600000], "nice": false}},
            "x2": {"field": "x2"},
            "y": {"field": "y", "type": "quantitative", "scale": {"domain": [17.99, 41.79], "nice": false, "zero": false}}
          }
        },
        {
          "data": {"name": "frameRsiV"},
          "mark": {"type": "rule", "color": "#50535e", "strokeWidth": 1},
          "encoding": {
            "x": {"field": "x", "type": "temporal", "scale": {"type": "utc", "domain": [1519516800000, 1612137600000], "nice": false}},
            "y": {"field": "y1", "type": "quantitative", "scale": {"domain": [17.99, 41.79], "nice": false, "zero": false}},
            "y2": {"field": "y2"}
          }
        },
        {
          "data": {"name": "cursor"},
          "mark": {"type": "rect", "color": "#2196f3"},
          "encoding": {
            "x": {"field": "date1", "type": "temporal", "scale": {"type": "utc", "domain": [1519516800000, 1612137600000], "nice": false}},
            "x2": {"field": "date2"},
            "y": {"field": "v1", "type": "quantitative", "scale": {"domain": [17.99, 41.79], "nice": false, "zero": false}},
            "y2": {"field": "v2"}
          }
        },
        {
          "data": {"name": "cursor"},
          "mark": {"type": "text", "color": "white", "font": "Open Sans", "fontSize": 13, "align": "center", "baseline": "middle"},
          "encoding": {
            "x": {"field": "date", "type": "temporal", "scale": {"type": "utc", "domain": [1519516800000, 1612137600000], "nice": false}},
            "y": {"field": "tv", "type": "quantitative", "scale": {"domain": [17.99, 41.79], "nice": false, "zero": false}},
            "text": {"field": "text"}
          }
        },
        {
          "data": {"name": "logo"},
          "mark": {"type": "text", "color": "#2196f3", "font": "DejaVu Sans", "fontSize": 24, "align": "center", "baseline": "middle"},
          "encoding": {
            "x": {"field": "date", "type": "temporal", "scale": {"type": "utc", "domain": [1519516800000, 1612137600000], "nice": false}},
            "y": {"field": "value", "type": "quantitative", "scale": {"domain": [17.99, 41.79], "nice": false, "zero": false}},
            "text": {"field": "glyph"}
          }
        }
      ]
    }
  ],
  "config": {
    "view": {"stroke": "#50535e", "strokeWidth": 1},
    "font": "Open Sans",
    "axis": {"gridColor": "#e6ebf2", "labelColor": "#50535e", "labelFont": "Open Sans", "labelFontSize": 13, "tickColor": "#50535e", "domainColor": "#50535e", "labelOverlap": false, "labelFlush": false}
  }
}
